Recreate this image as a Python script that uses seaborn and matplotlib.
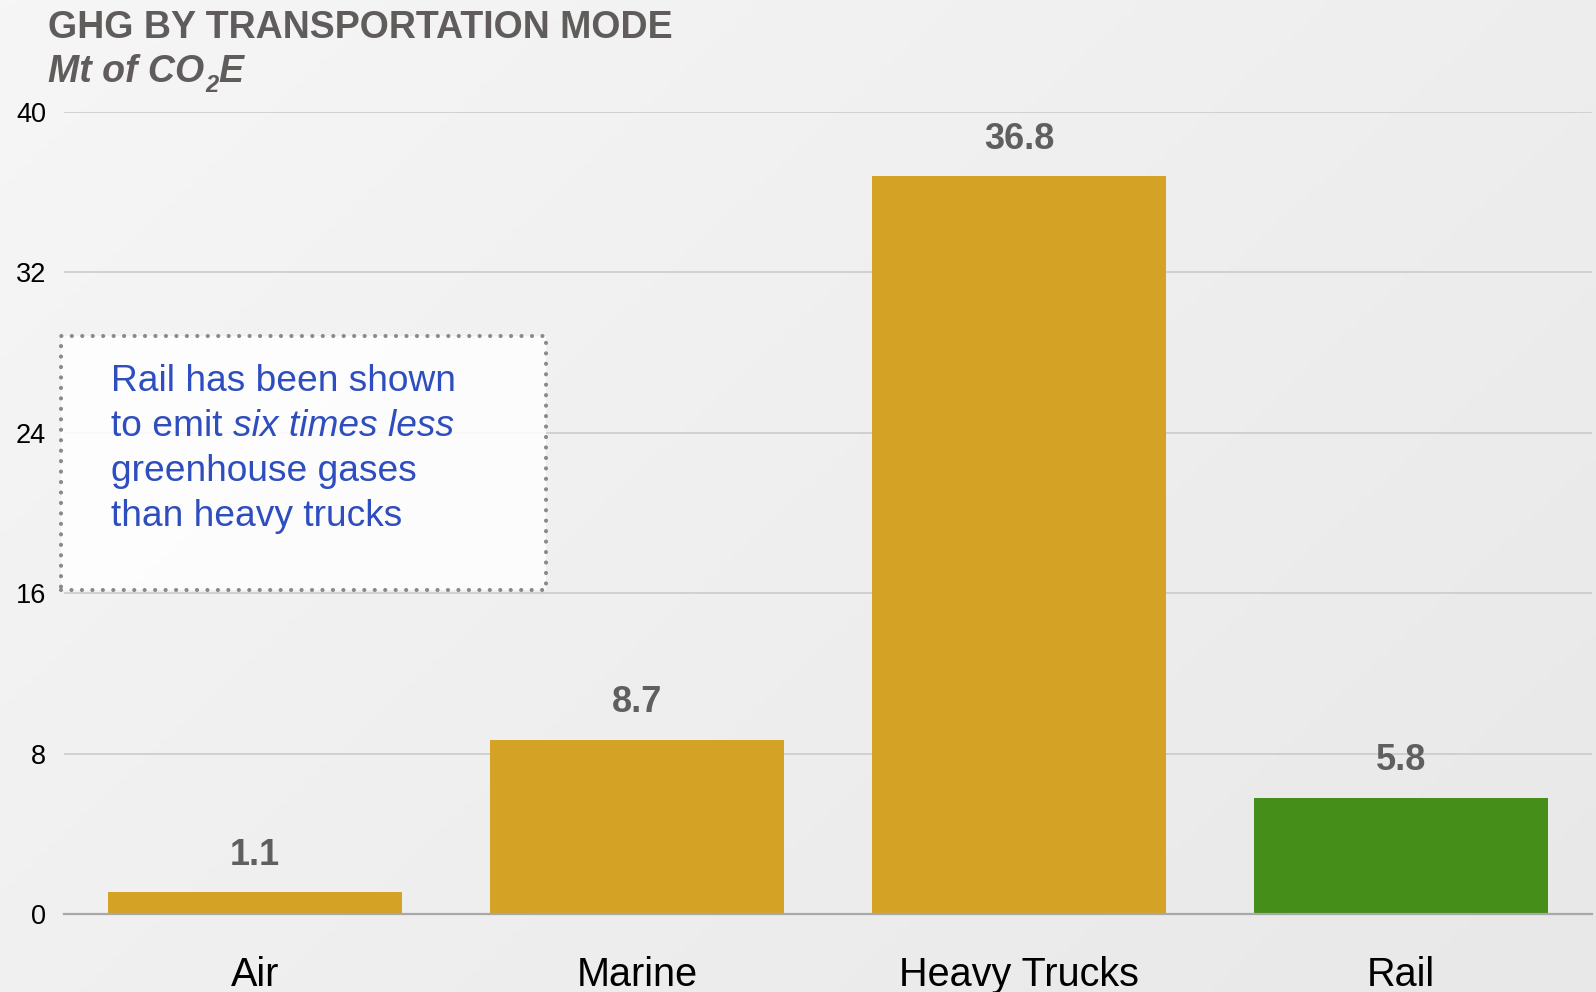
import matplotlib.pyplot as plt
import matplotlib.patches as mpatches
import numpy as np
import seaborn as sns

# data
modes = ["Air", "Marine", "Heavy Trucks", "Rail"]
emissions = [1.1, 8.7, 36.8, 5.8]
bar_colors = ["#D4A224", "#D4A224", "#D4A224", "#458E19"]
y_ticks = [0, 8, 16, 24, 32, 40]

W, H = 1596, 992
sns.set_style("white")
plt.rcParams["font.family"] = ["Liberation Sans", "DejaVu Sans"]

fig = plt.figure(figsize=(W / 100, H / 100), dpi=100)

# soft diagonal grey gradient background
bg = fig.add_axes([0, 0, 1, 1], zorder=-10)
gx, gy = np.meshgrid(np.linspace(0, 1, 200), np.linspace(0, 1, 200))
grad = 0.6 * gx + 0.4 * gy
bg.imshow(grad, cmap=sns.blend_palette(["#f6f6f6", "#e8e8e8"], as_cmap=True),
          aspect="auto", extent=[0, 1, 0, 1], origin="upper")
bg.set_axis_off()

ax = fig.add_axes([64 / W, 1 - 914 / H, (1592 - 64) / W, (914 - 112) / H])
ax.set_facecolor("none")

sns.barplot(x=modes, y=emissions, hue=modes, palette=bar_colors, legend=False,
            width=0.77, saturation=1, linewidth=0, ax=ax, zorder=3)

for cont in ax.containers:
    ax.bar_label(cont, fmt="%.1f", padding=14, fontsize=26, fontweight="bold",
                 color="#5f5f5f")

ax.set_ylim(0, 40)
ax.set_xlim(-0.5, 3.5)
ax.set_yticks(y_ticks)
ax.yaxis.grid(True, color="#c8c8c8", linewidth=1.1, zorder=0)
ax.set_axisbelow(True)
for s in ["top", "right", "left"]:
    ax.spines[s].set_visible(False)
ax.spines["bottom"].set_color("#a8a8a8")
ax.spines["bottom"].set_linewidth(1.6)
ax.spines["bottom"].set_zorder(4)
ax.tick_params(axis="x", length=0, pad=30, labelsize=28.5, labelcolor="black")
ax.tick_params(axis="y", length=0, pad=13, labelsize=19.5, labelcolor="black")
ax.set_xlabel("")
ax.set_ylabel("")

renderer = fig.canvas.get_renderer()


def chain(x, y, parts):
    # put text pieces one after another on a shared baseline (pixel coords)
    for text, dx, dy, kw in parts:
        t = fig.text((x + dx) / W, 1 - (y + dy) / H, text, va="baseline", ha="left", **kw)
        x = t.get_window_extent(renderer).x1


title_kw = dict(fontsize=27, fontweight="bold", color="#605c5c")
fig.text(48 / W, 1 - 38 / H, "GHG BY TRANSPORTATION MODE", va="baseline", **title_kw)
sub_kw = dict(title_kw, fontstyle="italic")
chain(48, 82, [
    ("Mt of CO", 0, 0, sub_kw),
    ("2", 1, 10, dict(sub_kw, fontsize=17)),
    ("E", 0, 0, sub_kw),
])

# note box
box = mpatches.Rectangle((61 / W, 1 - 590 / H), (546 - 61) / W, (590 - 336) / H,
                         transform=fig.transFigure, facecolor="white", alpha=0.85,
                         edgecolor="none", zorder=5)
fig.patches.append(box)
border = mpatches.Rectangle((61 / W, 1 - 590 / H), (546 - 61) / W, (590 - 336) / H,
                            transform=fig.transFigure, facecolor="none",
                            edgecolor="#8a8a8a", linewidth=3,
                            linestyle=(0, (0.01, 2.5)), capstyle="round", zorder=6)
fig.patches.append(border)

note_kw = dict(fontsize=26.7, color="#2E4DBE", zorder=7)
space = 0.278 * 26.7 * 100 / 72
fig.text(111 / W, 1 - 391 / H, "Rail has been shown", va="baseline", **note_kw)
chain(111, 436, [
    ("to emit", 0, 0, note_kw),
    ("six times less", space, 0, dict(note_kw, fontstyle="italic")),
])
fig.text(111 / W, 1 - 481 / H, "greenhouse gases", va="baseline", **note_kw)
fig.text(111 / W, 1 - 526 / H, "than heavy trucks", va="baseline", **note_kw)

fig.savefig("out.png", dpi=100)
